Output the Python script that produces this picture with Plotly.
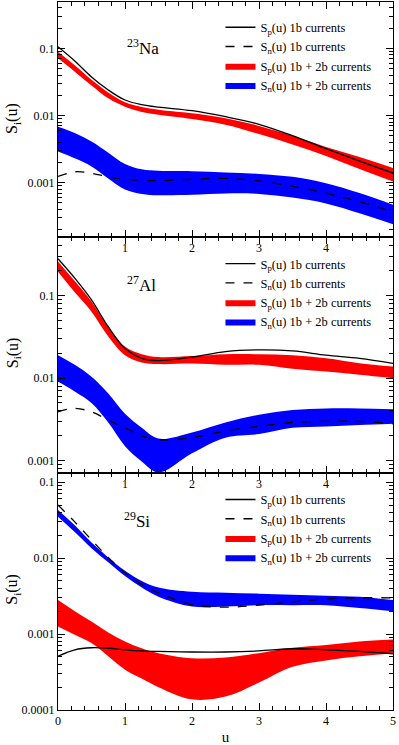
import plotly.graph_objects as go

# valores de u (momento transferido)
u = [0, 0.25, 0.5, 0.75, 1, 1.25, 1.5, 2, 2.5, 3, 3.5, 4, 4.5, 5]

# 23Na
na_sp_1b = [0.106, 0.065, 0.0375, 0.024, 0.017, 0.0145, 0.0133, 0.0118, 0.0096, 0.0074, 0.0050, 0.0032, 0.0021, 0.00139]
na_sn_1b = [0.00124, 0.00145, 0.00138, 0.00122, 0.00112, 0.00108, 0.00107, 0.00112, 0.00116, 0.00106, 0.00088, 0.0007, 0.00052, 0.00037]
na_sp_hi = [0.089, 0.056, 0.034, 0.022, 0.0158, 0.0134, 0.0122, 0.0108, 0.0091, 0.0070, 0.0050, 0.0034, 0.0024, 0.00165]
na_sp_lo = [0.071, 0.045, 0.028, 0.018, 0.0135, 0.0113, 0.0103, 0.0089, 0.0073, 0.0053, 0.0037, 0.0025, 0.0016, 0.00104]
na_sn_hi = [0.0068, 0.0055, 0.0041, 0.0028, 0.0019, 0.00158, 0.0015, 0.00148, 0.00142, 0.00135, 0.00122, 0.00098, 0.0007, 0.00047]
na_sn_lo = [0.0029, 0.0023, 0.00174, 0.00115, 0.00079, 0.00068, 0.00065, 0.00066, 0.00069, 0.00068, 0.0006, 0.00049, 0.00035, 0.00024]

# 27Al
al_sp_1b = [0.28, 0.163, 0.089, 0.042, 0.023, 0.0174, 0.0163, 0.018, 0.021, 0.022, 0.0214, 0.019, 0.0174, 0.0151]
al_sn_1b = [0.0039, 0.0043, 0.0039, 0.0031, 0.0025, 0.0020, 0.0018, 0.0019, 0.0023, 0.0026, 0.0029, 0.003, 0.003, 0.0028]
al_sp_hi = [0.26, 0.15, 0.085, 0.042, 0.024, 0.0195, 0.018, 0.0185, 0.0195, 0.0195, 0.019, 0.0174, 0.0152, 0.0138]
al_sp_lo = [0.195, 0.11, 0.064, 0.032, 0.019, 0.0155, 0.0148, 0.015, 0.0145, 0.0145, 0.013, 0.012, 0.011, 0.010]
al_sn_hi = [0.019, 0.0145, 0.0104, 0.0065, 0.0037, 0.0025, 0.00185, 0.0022, 0.0029, 0.0036, 0.0041, 0.0043, 0.0043, 0.0042]
al_sn_lo = [0.0091, 0.0069, 0.005, 0.0029, 0.0015, 0.00098, 0.00072, 0.00123, 0.0019, 0.0021, 0.0025, 0.0026, 0.0027, 0.0028]

# 29Si
si_sp_1b = [0.00051, 0.00062, 0.00066, 0.00065, 0.00062, 0.0006, 0.00059, 0.00058, 0.00058, 0.0006, 0.00064, 0.00062, 0.00059, 0.00055]
si_sn_1b = [0.05, 0.03, 0.0174, 0.0102, 0.0064, 0.0045, 0.0035, 0.00243, 0.00226, 0.0024, 0.00265, 0.0029, 0.003, 0.003]
si_sp_hi = [0.0028, 0.002, 0.00146, 0.00105, 0.0008, 0.00065, 0.00056, 0.00048, 0.00049, 0.00056, 0.00066, 0.00072, 0.0008, 0.00085]
si_sp_lo = [0.00126, 0.00098, 0.00076, 0.00051, 0.00034, 0.00026, 0.0002, 0.000138, 0.00015, 0.00023, 0.00037, 0.00045, 0.00051, 0.00056]
si_sn_hi = [0.043, 0.027, 0.016, 0.0102, 0.0068, 0.005, 0.0041, 0.0036, 0.0035, 0.0034, 0.0033, 0.0032, 0.0031, 0.0028]
si_sn_lo = [0.035, 0.022, 0.0135, 0.0088, 0.0058, 0.0041, 0.0031, 0.0023, 0.0023, 0.0024, 0.0024, 0.0024, 0.0022, 0.002]

paineis = [
    ("<sup>23</sup>Na", na_sp_1b, na_sn_1b, na_sp_hi, na_sp_lo, na_sn_hi, na_sn_lo),
    ("<sup>27</sup>Al", al_sp_1b, al_sn_1b, al_sp_hi, al_sp_lo, al_sn_hi, al_sn_lo),
    ("<sup>29</sup>Si", si_sp_1b, si_sn_1b, si_sp_hi, si_sp_lo, si_sn_hi, si_sn_lo),
]

fonte = "Liberation Serif"
dominios = [[0.668, 1.0], [0.3347, 0.668], [0.0, 0.3347]]
faixas_y = [[-3.81, -0.31], [-3.15, -0.29], [-4.0, -0.88]]
leg_y = [0.985, 0.651, 0.318]
rot_x = [0.2, 0.2, 0.19]
rot_y = [0.936, 0.602, 0.268]
tit_y = [0.835, 0.504, 0.17]

fig = go.Figure()
for i, (nome, sp1, sn1, sp_hi, sp_lo, sn_hi, sn_lo) in enumerate(paineis):
    n = "" if i == 0 else str(i + 1)
    xa, ya = "x" + n, "y" + n
    leg = "legend" + n
    # bandas 1b + 2b
    fig.add_trace(go.Scatter(x=u, y=sp_lo, xaxis=xa, yaxis=ya, mode="lines", line=dict(width=0, shape="spline"),
                             showlegend=False, hoverinfo="skip"))
    fig.add_trace(go.Scatter(x=u, y=sp_hi, xaxis=xa, yaxis=ya, mode="lines", line=dict(width=0, shape="spline"),
                             fill="tonexty", fillcolor="#ff0000", name="S<sub>p</sub>(u) 1b + 2b currents",
                             legend=leg, legendrank=3))
    fig.add_trace(go.Scatter(x=u, y=sn_lo, xaxis=xa, yaxis=ya, mode="lines", line=dict(width=0, shape="spline"),
                             showlegend=False, hoverinfo="skip"))
    fig.add_trace(go.Scatter(x=u, y=sn_hi, xaxis=xa, yaxis=ya, mode="lines", line=dict(width=0, shape="spline"),
                             fill="tonexty", fillcolor="#0000ff", name="S<sub>n</sub>(u) 1b + 2b currents",
                             legend=leg, legendrank=4))
    # curvas 1b
    fig.add_trace(go.Scatter(x=u, y=sp1, xaxis=xa, yaxis=ya, mode="lines",
                             line=dict(color="black", width=1.3, shape="spline"),
                             name="S<sub>p</sub>(u) 1b currents", legend=leg, legendrank=1))
    fig.add_trace(go.Scatter(x=u, y=sn1, xaxis=xa, yaxis=ya, mode="lines",
                             line=dict(color="black", width=1.3, dash="dash", shape="spline"),
                             name="S<sub>n</sub>(u) 1b currents", legend=leg, legendrank=2))

    eixo_x = dict(domain=[0, 1], range=[0, 5], anchor=ya, showline=True, linecolor="black", linewidth=1,
                  mirror="ticks", ticks="inside", ticklen=7, tickcolor="black", showgrid=False, zeroline=False,
                  minor=dict(ticks="inside", ticklen=4, dtick=0.2, tickcolor="black"),
                  tickfont=dict(family=fonte, size=12, color="black"))
    if i < 2:
        eixo_x.update(tickvals=[1, 2, 3, 4], matches="x3")
    else:
        # título do eixo x só no painel de baixo
        eixo_x.update(dtick=1, title=dict(text="u", standoff=6, font=dict(family=fonte, size=15, color="black")))
    eixo_y = dict(domain=dominios[i], type="log", range=faixas_y[i], anchor=xa, showline=True, linecolor="black",
                  linewidth=1, mirror="ticks", ticks="inside", ticklen=7, tickcolor="black", showgrid=False,
                  dtick=1, exponentformat="none",
                  minor=dict(ticks="inside", ticklen=4, dtick="D1", tickcolor="black"),
                  tickfont=dict(family=fonte, size=12, color="black"))
    fig.update_layout({"xaxis" + n: eixo_x, "yaxis" + n: eixo_y})
    fig.update_layout({leg: dict(x=0.485, y=leg_y[i], xanchor="left", yanchor="top", bgcolor="rgba(0,0,0,0)",
                                 font=dict(family=fonte, size=12.5, color="black"), tracegroupgap=0,
                                 traceorder="normal", itemwidth=30)})

    # rótulo do núcleo e título do eixo y
    fig.add_annotation(x=rot_x[i], y=rot_y[i], xref="paper", yref="paper", text=nome, showarrow=False,
                       xanchor="left", yanchor="middle", font=dict(family=fonte, size=17, color="black"))
    fig.add_annotation(x=-0.134, y=tit_y[i], xref="paper", yref="paper", text="S<sub>i</sub>(u)",
                       showarrow=False, textangle=-90, xanchor="center", yanchor="middle",
                       font=dict(family=fonte, size=16, color="black"))

fig.update_layout(width=399, height=745, margin=dict(l=58, r=6, t=2, b=35, autoexpand=False),
                  plot_bgcolor="white", paper_bgcolor="white", hovermode=False)
# tira a margem padrão do body para a figura ocupar a janela toda
fig.write_html("out.html", config={"displayModeBar": False},
               post_script="document.body.style.margin='0px';")
